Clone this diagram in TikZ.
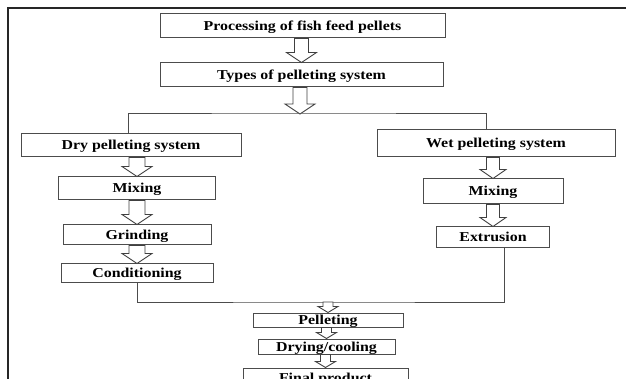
\documentclass[tikz,border=0pt]{standalone}
\usepackage{fontspec}
\setmainfont[FakeStretch=1.17]{Liberation Serif}
\usetikzlibrary{calc}

\newcommand{\blockarrow}[5]{%
	\draw[hollow] let \p1=(#1), \p2=(#2) in
		(\x2-#3,\y1) -- (\x2-#3,\y2+#5) -- (\x2-#4,\y2+#5) -- (\x2,\y2)
		-- (\x2+#4,\y2+#5) -- (\x2+#3,\y2+#5) -- (\x2+#3,\y1) -- cycle;}

\begin{document}
\begin{tikzpicture}[
	x=1pt, y=-1pt,
	box/.style={
		rectangle,
		draw=black!70,
		line width=1pt,
		fill=white,
		inner sep=0pt,
		text height=9pt,
		text depth=0pt,
		font=\fontsize{13.6}{15}\selectfont\bfseries
	},
	frame/.style={line width=2pt, black!85},
	link/.style={line width=1pt, black!70},
	hollow/.style={line width=0.9pt, draw=black!75, fill=white, line join=miter}
]
\useasboundingbox (0,0) rectangle (626,379);
\draw[frame] (8,379) |- (626,8);

\node[box, minimum width=285pt, minimum height=24pt] (proc) at (302.5,26) {Processing of fish feed pellets};
\node[box, minimum width=283pt, minimum height=24pt] (types) at (301.5,75) {Types of pelleting system};

\node[box, minimum width=220pt, minimum height=23pt] (dry) at (131,145.5) {Dry pelleting system};
\node[box, minimum width=157pt, minimum height=23pt] (mixd) at (137,188.5) {Mixing};
\node[box, minimum width=148pt, minimum height=20pt] (grind) at (137,235) {Grinding};
\node[box, minimum width=152pt, minimum height=18pt] (cond) at (137,273) {Conditioning};

\node[box, minimum width=238pt, minimum height=27pt] (wet) at (496,143.5) {Wet pelleting system};
\node[box, minimum width=140pt, minimum height=25pt] (mixw) at (493,191.5) {Mixing};
\node[box, minimum width=113pt, minimum height=21pt] (extr) at (493,237.5) {Extrusion};

\node[box, minimum width=150pt, minimum height=14pt] (pell) at (328,320) {Pelleting};
\node[box, minimum width=137pt, minimum height=15pt] (drycool) at (326.5,346.5) {Drying/cooling};
\node[box, minimum width=165pt, minimum height=20pt] (final) at (325.5,378) {Final product};

\coordinate (split) at (300,114);
\coordinate (merge) at (327,302);

\draw[link] ([xshift=-3pt]dry.north) |- (split) -| ([xshift=-10pt]wet.north);
\draw[link] (cond.south) |- (merge) -| ([xshift=11pt]extr.south);

\blockarrow{proc.south}{types.north}{7pt}{15pt}{10pt}
\blockarrow{types.south}{split}{7pt}{15pt}{10pt}
\blockarrow{dry.south}{mixd.north}{8pt}{15pt}{10pt}
\blockarrow{mixd.south}{grind.north}{8pt}{15pt}{10pt}
\blockarrow{grind.south}{cond.north}{8pt}{15pt}{10pt}
\blockarrow{wet.south}{mixw.north}{6.5pt}{13pt}{9pt}
\blockarrow{mixw.south}{extr.north}{6.5pt}{13pt}{9pt}
\blockarrow{merge}{pell.north}{5pt}{10pt}{6pt}
\blockarrow{pell.south}{drycool.north}{5pt}{10pt}{6pt}
\blockarrow{drycool.south}{final.north}{5pt}{10pt}{6pt}
\end{tikzpicture}
\end{document}
